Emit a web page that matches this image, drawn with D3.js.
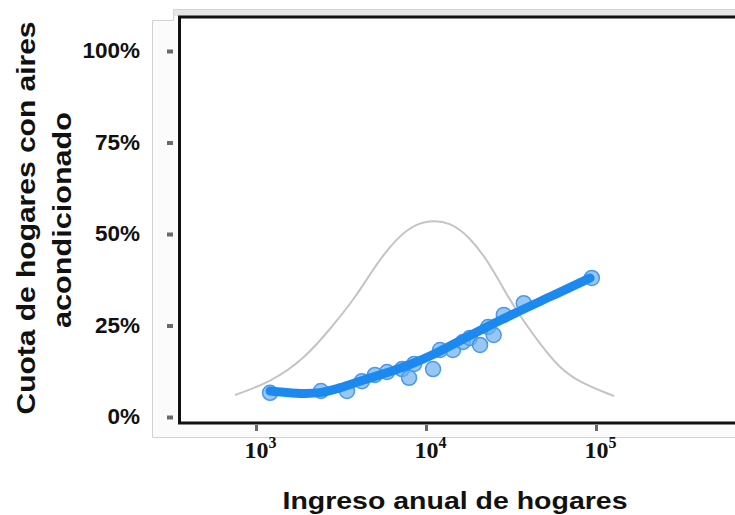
<!DOCTYPE html>
<html><head><meta charset="utf-8">
<script src="https://cdn.jsdelivr.net/npm/d3@7"></script>
<style>body{margin:0;background:#fff}svg{display:block}</style>
</head><body>
<svg id="c" width="735" height="515"></svg>
<script>
// ---- data ----
const yTicks = [0, 25, 50, 75, 100];
const yTickLabels = ["0%", "25%", "50%", "75%", "100%"];
const xTicks = [1e3, 1e4, 1e5];
const xTickExponents = ["3", "4", "5"];
const xTitle = "Ingreso anual de hogares";
const yTitle = ["Cuota de hogares con aires", "acondicionado"];

// observed share points: income, share %
const pointIncome = [1210, 2410, 3430, 4200, 5010, 5900, 7230, 7950, 8510, 11000, 12100, 14400, 16500, 18100, 20800, 23200, 25000, 28700, 37600, 94500];
const pointShare  = [6.6, 7.1, 7.1, 9.8, 11.5, 12.3, 13.1, 10.7, 14.5, 13.1, 18.3, 18.3, 20.5, 21.6, 19.7, 24.6, 22.4, 27.9, 31.1, 38.0];

// fitted curve
const fitIncome = [1210, 1740, 2380, 3120, 4260, 6140, 8280, 11000, 17400, 34300, 53600, 92300];
const fitShare  = [7.1, 6.4, 6.4, 7.9, 10.1, 12.3, 14.5, 16.9, 21.9, 28.7, 32.8, 38.0];

// income distribution (grey curve), scaled to share axis
const distIncome = [752, 1225, 1916, 2762, 3820, 4810, 6050, 7940, 10400, 13800, 18100, 23800, 29900, 37700, 47400, 59700, 78300, 128000];
const distShare  = [6.0, 9.6, 15.8, 24.3, 32.5, 39.9, 46.4, 51.9, 53.8, 53.3, 49.2, 41.8, 33.3, 26.0, 19.7, 13.9, 9.6, 5.7];

// ---- drawing ----
const svg = d3.select("#c");
const x = d3.scaleLog().domain([1e3, 1e5]).range([256, 596]);
const y = d3.scaleLinear().domain([0, 100]).range([417, 51]);

// background panel
svg.append("path")
  .attr("d", "M152.5,20.5 H173.5 V9.5 H736 V437.5 H152.5 Z")
  .attr("fill", "#fbfbfb").attr("stroke", "#d2d2d2");
svg.append("rect").attr("x", 174).attr("y", 10).attr("width", 561).attr("height", 6).attr("fill", "#e6e6e6");
svg.append("rect").attr("x", 179).attr("y", 17).attr("width", 556).attr("height", 405).attr("fill", "#fff");

// frame
svg.append("path")
  .attr("d", "M736,17 H179.5 V423 H736")
  .attr("fill", "none").attr("stroke", "#111").attr("stroke-width", 3);

// y axis
const yAxis = svg.append("g").attr("transform", "translate(173,0)")
  .call(d3.axisLeft(y).tickValues(yTicks).tickSize(6).tickPadding(27)
        .tickFormat((d, i) => yTickLabels[i]));
yAxis.select(".domain").remove();
yAxis.selectAll(".tick line").attr("stroke", "#6a6a6a").attr("stroke-width", 4);
yAxis.selectAll(".tick text")
  .attr("font-family", "Liberation Sans, Arial, sans-serif")
  .attr("font-weight", "bold").attr("font-size", 22.5).attr("fill", "#111")
  .attr("dy", "0.3em");

// x axis
const xAxis = svg.append("g").attr("transform", "translate(0,425)")
  .call(d3.axisBottom(x).tickValues(xTicks).tickSize(6).tickPadding(12).tickFormat(() => ""));
xAxis.select(".domain").remove();
xAxis.selectAll(".tick line").attr("stroke", "#6a6a6a").attr("stroke-width", 3);
xAxis.selectAll(".tick text").each(function(d, i) {
  const t = d3.select(this)
    .attr("font-family", "Liberation Serif, DejaVu Serif, serif")
    .attr("font-weight", "bold").attr("font-size", 24).attr("fill", "#111")
    .attr("x", 4).attr("y", 33).attr("dy", null).attr("text-anchor", "middle");
  t.text("");
  t.append("tspan").text("10");
  t.append("tspan").attr("font-size", 16).attr("dy", -10).text(xTickExponents[i]);
});

// grey distribution curve
const distData = distIncome.map((v, i) => [v, distShare[i]]);
svg.append("path").datum(distData)
  .attr("fill", "none").attr("stroke", "#c4c4c4").attr("stroke-width", 2)
  .attr("d", d3.line().x(d => x(d[0])).y(d => y(d[1])).curve(d3.curveBasis));

// points
const ptData = pointIncome.map((v, i) => [v, pointShare[i]]);
svg.append("g").selectAll("circle").data(ptData).join("circle")
  .attr("cx", d => x(d[0])).attr("cy", d => y(d[1])).attr("r", 7.5)
  .attr("fill", "rgba(110,175,240,0.7)").attr("stroke", "#4a98ea").attr("stroke-width", 1.5);

// fit line
const fitData = fitIncome.map((v, i) => [v, fitShare[i]]);
svg.append("path").datum(fitData)
  .attr("fill", "none").attr("stroke", "#1c89f0").attr("stroke-width", 9)
  .attr("stroke-linecap", "round").attr("stroke-linejoin", "round")
  .attr("d", d3.line().x(d => x(d[0])).y(d => y(d[1])).curve(d3.curveBasis));

// titles
svg.append("text").attr("x", 455).attr("y", 509).attr("text-anchor", "middle")
  .attr("font-family", "Liberation Sans, Arial, sans-serif").attr("font-weight", "bold")
  .attr("font-size", 24).attr("fill", "#111")
  .attr("textLength", 345).attr("lengthAdjust", "spacingAndGlyphs").text(xTitle);

const yt = svg.append("g");
yt.append("text").attr("transform", "translate(35,218) rotate(-90)").attr("text-anchor", "middle")
  .attr("font-family", "Liberation Sans, Arial, sans-serif").attr("font-weight", "bold")
  .attr("font-size", 25).attr("fill", "#111")
  .attr("textLength", 393).attr("lengthAdjust", "spacingAndGlyphs").text(yTitle[0]);
yt.append("text").attr("transform", "translate(71,220) rotate(-90)").attr("text-anchor", "middle")
  .attr("font-family", "Liberation Sans, Arial, sans-serif").attr("font-weight", "bold")
  .attr("font-size", 25).attr("fill", "#111")
  .attr("textLength", 216).attr("lengthAdjust", "spacingAndGlyphs").text(yTitle[1]);
</script>
</body></html>
